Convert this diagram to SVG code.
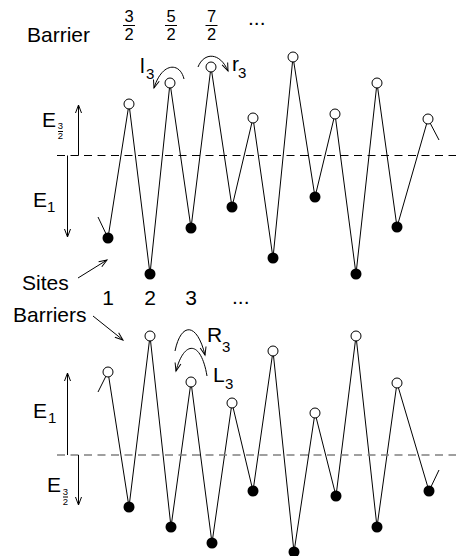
<svg xmlns="http://www.w3.org/2000/svg" width="456" height="556" viewBox="0 0 456 556">
<style>
text{font-family:"Liberation Sans",Arial,sans-serif;fill:#000}
.lbl{font-size:21px}
.sub{font-size:15px}
.fr{font-size:16.5px;text-anchor:middle}
.tiny{font-size:9.5px;text-anchor:middle}
.ln{stroke:#000;stroke-width:1;fill:none}
.dash{stroke:#000;stroke-width:1;stroke-dasharray:8,5.5;fill:none}
.dashg{stroke:#808080;stroke-width:1.3;stroke-dasharray:8,5.5;fill:none}
.b{fill:#fff;stroke:#000;stroke-width:1}
.s{fill:#000}
.arr{stroke:#000;stroke-width:1;fill:none;marker-end:url(#ah)}
</style>
<defs>
<marker id="ah" markerUnits="userSpaceOnUse" markerWidth="12" markerHeight="10" refX="0" refY="0" viewBox="-10 -5 12 10" orient="auto">
<path d="M-8,-3 L0,0 L-8,3" fill="none" stroke="#000" stroke-width="1"/>
</marker>
</defs>

<!-- Top panel header -->
<g id="top-header">
<text class="lbl" x="27" y="42">Barrier</text>
<g id="frac-3-2"><text class="fr" x="129" y="22">3</text><line class="ln" x1="123" y1="25.5" x2="135" y2="25.5"/><text class="fr" x="129" y="40">2</text></g>
<g id="frac-5-2"><text class="fr" x="171" y="22">5</text><line class="ln" x1="165" y1="25.5" x2="177" y2="25.5"/><text class="fr" x="171" y="40">2</text></g>
<g id="frac-7-2"><text class="fr" x="211.5" y="22">7</text><line class="ln" x1="205.5" y1="25.5" x2="217.5" y2="25.5"/><text class="fr" x="211.5" y="40">2</text></g>
<text class="lbl" x="248" y="25">...</text>
</g>

<!-- Top energy scale -->
<g id="top-scale">
<line class="dash" x1="57" y1="155.5" x2="456" y2="155.5"/>
<line class="arr" x1="78.5" y1="155.5" x2="78.5" y2="105"/>
<line class="arr" x1="67.5" y1="155.5" x2="67.5" y2="237"/>
<text class="lbl" x="42" y="127">E</text>
<text class="tiny" x="60.5" y="129">3</text><line class="ln" x1="58" y1="131.5" x2="63" y2="131.5"/><text class="tiny" x="60.5" y="139">2</text>
<text class="lbl" x="33" y="207">E</text><text class="sub" x="47" y="212">1</text>
</g>

<!-- Connectors -->
<g id="connectors">
<polyline class="ln" points="98,217 108,238 129,104 150,274 170,83 191,228 211,67 232,207 253,118 273,258 293,57 315,197 335,114 356,274 377,83 397,227 428,119 439,140"/>
<polyline class="ln" points="98,392 108,372 129,507 150,336 171,527 191,382 212,543 232,403 253,491 273,351 294,552 315,413 336,496 356,336 377,527 397,383 429,491 439,470"/>
<path class="arr" d="M184,79 C180,62 162,62 154,88"/>
<path class="arr" d="M198,67 C204,52 220,52 228,71"/>
<path class="arr" d="M175,351 C181,322 197,322 205,355"/>
<path class="arr" d="M207,376 C201,340 184,340 176,371"/>
<line class="arr" x1="78" y1="278" x2="107" y2="260"/>
<line class="arr" x1="93" y1="316" x2="123" y2="340"/>
</g>

<!-- Top nodes -->
<g id="top-barriers">
<circle id="tb1" class="b" cx="129" cy="104" r="5"/>
<circle id="tb2" class="b" cx="170" cy="83" r="5"/>
<circle id="tb3" class="b" cx="211" cy="67" r="5"/>
<circle id="tb4" class="b" cx="253" cy="118" r="5"/>
<circle id="tb5" class="b" cx="293" cy="57" r="5"/>
<circle id="tb6" class="b" cx="335" cy="114" r="5"/>
<circle id="tb7" class="b" cx="377" cy="83" r="5"/>
<circle id="tb8" class="b" cx="428" cy="119" r="5"/>
</g>
<g id="top-sites">
<circle id="ts1" class="s" cx="108" cy="238" r="5.5"/>
<circle id="ts2" class="s" cx="150" cy="274" r="5.5"/>
<circle id="ts3" class="s" cx="191" cy="228" r="5.5"/>
<circle id="ts4" class="s" cx="232" cy="207" r="5.5"/>
<circle id="ts5" class="s" cx="273" cy="258" r="5.5"/>
<circle id="ts6" class="s" cx="315" cy="197" r="5.5"/>
<circle id="ts7" class="s" cx="356" cy="274" r="5.5"/>
<circle id="ts8" class="s" cx="397" cy="227" r="5.5"/>
</g>
<g id="top-rates">
<text class="lbl" x="140" y="73">l</text><text class="sub" x="146" y="79">3</text>
<text class="lbl" x="232" y="71">r</text><text class="sub" x="238" y="78">3</text>
</g>

<!-- Middle labels -->
<g id="labels">
<text class="lbl" x="22" y="290">Sites</text>
<text class="lbl" x="13" y="322">Barriers</text>
<text class="lbl" x="108" y="305" text-anchor="middle">1</text>
<text class="lbl" x="150" y="305" text-anchor="middle">2</text>
<text class="lbl" x="191" y="305" text-anchor="middle">3</text>
<text class="lbl" x="232" y="304">...</text>
</g>

<!-- Bottom energy scale -->
<g id="bottom-scale">
<line class="dashg" x1="57" y1="455" x2="456" y2="455"/>
<line class="arr" x1="67.5" y1="455" x2="67.5" y2="373"/>
<line class="arr" x1="78.5" y1="455" x2="78.5" y2="505"/>
<text class="lbl" x="33" y="418">E</text><text class="sub" x="48" y="423">1</text>
<text class="lbl" x="47" y="492">E</text>
<text class="tiny" x="65.5" y="495">3</text><line class="ln" x1="63" y1="497" x2="68" y2="497"/><text class="tiny" x="65.5" y="505">2</text>
</g>

<!-- Bottom nodes -->
<g id="bottom-barriers">
<circle id="bb1" class="b" cx="108" cy="372" r="5"/>
<circle id="bb2" class="b" cx="150" cy="336" r="5"/>
<circle id="bb3" class="b" cx="191" cy="382" r="5"/>
<circle id="bb4" class="b" cx="232" cy="403" r="5"/>
<circle id="bb5" class="b" cx="273" cy="351" r="5"/>
<circle id="bb6" class="b" cx="315" cy="413" r="5"/>
<circle id="bb7" class="b" cx="356" cy="336" r="5"/>
<circle id="bb8" class="b" cx="397" cy="383" r="5"/>
</g>
<g id="bottom-sites">
<circle id="bs1" class="s" cx="129" cy="507" r="5.5"/>
<circle id="bs2" class="s" cx="171" cy="527" r="5.5"/>
<circle id="bs3" class="s" cx="212" cy="543" r="5.5"/>
<circle id="bs4" class="s" cx="253" cy="491" r="5.5"/>
<circle id="bs5" class="s" cx="294" cy="552" r="5.5"/>
<circle id="bs6" class="s" cx="336" cy="496" r="5.5"/>
<circle id="bs7" class="s" cx="377" cy="527" r="5.5"/>
<circle id="bs8" class="s" cx="429" cy="491" r="5.5"/>
</g>
<g id="bottom-rates">
<text class="lbl" x="207" y="342">R</text><text class="sub" x="222" y="352">3</text>
<text class="lbl" x="213" y="382">L</text><text class="sub" x="225" y="389">3</text>
</g>
</svg>
